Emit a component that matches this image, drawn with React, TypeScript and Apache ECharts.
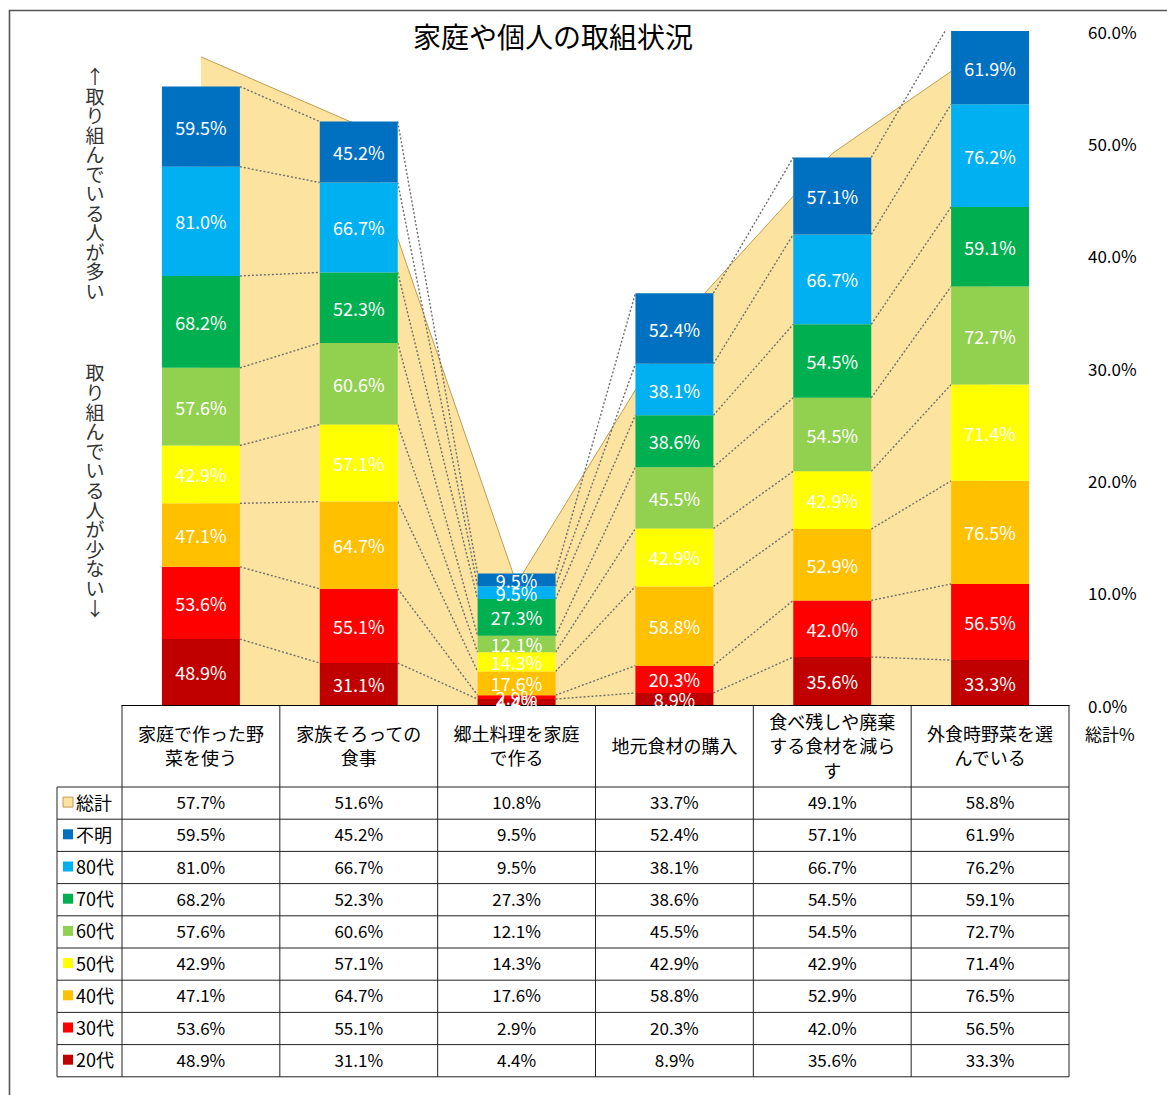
import React, { useEffect, useRef } from 'react';
import * as echarts from 'echarts';

// ---- data ----
const categories = [
  '家庭で作った野菜を使う',
  '家族そろっての食事',
  '郷土料理を家庭で作る',
  '地元食材の購入',
  '食べ残しや廃棄する食材を減らす',
  '外食時野菜を選んでいる',
];
const totalName = '総計';
const total = [57.7, 51.6, 10.8, 33.7, 49.1, 58.8];
const unknown = [59.5, 45.2, 9.5, 52.4, 57.1, 61.9];
const age80 = [81.0, 66.7, 9.5, 38.1, 66.7, 76.2];
const age70 = [68.2, 52.3, 27.3, 38.6, 54.5, 59.1];
const age60 = [57.6, 60.6, 12.1, 45.5, 54.5, 72.7];
const age50 = [42.9, 57.1, 14.3, 42.9, 42.9, 71.4];
const age40 = [47.1, 64.7, 17.6, 58.8, 52.9, 76.5];
const age30 = [53.6, 55.1, 2.9, 20.3, 42.0, 56.5];
const age20 = [48.9, 31.1, 4.4, 8.9, 35.6, 33.3];

const stackNames = ['20代', '30代', '40代', '50代', '60代', '70代', '80代', '不明'];
const stackValues = [age20, age30, age40, age50, age60, age70, age80, unknown];
const stackColors = ['#C00000', '#FF0000', '#FFC000', '#FFFF00', '#92D050', '#00B050', '#00B0F0', '#0070C0'];

const titleText = '家庭や個人の取組状況';
const noteUp = '↑取り組んでいる人が多い';
const noteDown = '取り組んでいる人が少ない↓';
const rightAxisName = '総計%';

const AREA_FILL = '#FCE3A0';
const AREA_LINE = '#C49A52';
const FONT = '"Noto Sans CJK JP", "Noto Sans", sans-serif';
const BAR_RATIO = 0.494;

const GRID_LEFT = 122;
const GRID_RIGHT_X = 1069;
const GRID_TOP = 31;
const AXIS_Y = 705;
const HEADER_H = 82;
const ROW_H = 32.2;

const fmt = (v: number) => v.toFixed(1) + '%';
const wrap7 = (s: string) => {
  const out: string[] = [];
  for (let i = 0; i < s.length; i += 7) out.push(s.slice(i, i + 7));
  return out.join('\n');
};

export default function App() {
  const ref = useRef<HTMLDivElement>(null);
  useEffect(() => {
    document.body.style.margin = '0';
    const chart = echarts.init(ref.current!, null, { renderer: 'svg' });

    const barSeries = stackNames.map((name, s) => ({
      type: 'bar',
      name,
      stack: 'age',
      data: stackValues[s],
      barWidth: (BAR_RATIO * 100).toFixed(1) + '%',
      clip: true,
      z: 3,
      itemStyle: { color: stackColors[s] },
      label: {
        show: true,
        position: 'inside',
        color: '#fff',
        fontSize: 18,
        fontFamily: FONT,
        formatter: (p: any) => fmt(p.value),
      },
    }));

    const option: any = {
      animation: false,
      backgroundColor: '#fff',
      title: {
        text: titleText,
        left: 548,
        top: 17,
        textAlign: 'center',
        textStyle: { fontSize: 28, fontWeight: 'normal', color: '#000', fontFamily: FONT },
      },
      grid: { left: GRID_LEFT, right: 1167 - GRID_RIGHT_X, top: GRID_TOP, bottom: 1095 - AXIS_Y },
      xAxis: {
        type: 'category',
        data: categories,
        axisLine: { lineStyle: { color: '#000', width: 1 } },
        axisTick: { show: false },
        axisLabel: {
          interval: 0,
          formatter: (v: string) => wrap7(v),
          color: '#000',
          fontSize: 18,
          lineHeight: 24.5,
          fontFamily: FONT,
          verticalAlign: 'middle',
          margin: 40,
        },
      },
      yAxis: [
        { type: 'value', min: 0, max: 500, show: false },
        {
          type: 'value',
          min: 0,
          max: 60,
          interval: 10,
          position: 'right',
          axisLine: { show: false },
          axisTick: { show: false },
          splitLine: { show: false },
          axisLabel: {
            formatter: (v: number) => fmt(v),
            color: '#000',
            fontSize: 17,
            margin: 19,
            fontFamily: FONT,
            padding: [0, 0, 5, 0],
          },
        },
      ],
      series: [
        {
          type: 'line',
          name: totalName,
          yAxisIndex: 1,
          data: total,
          symbol: 'none',
          z: 1,
          lineStyle: { color: AREA_LINE, width: 1 },
          areaStyle: { color: AREA_FILL, opacity: 1 },
        },
        {
          type: 'custom',
          name: 'series-lines',
          xAxisIndex: 0,
          yAxisIndex: 0,
          clip: true,
          silent: true,
          z: 2,
          encode: { x: 0, y: 1 },
          data: categories.slice(0, -1).map((_, i) => [i, 0]),
          renderItem: (params: any, api: any) => {
            const i = api.value(0);
            const band = api.size([1, 0])[0];
            const half = (band * BAR_RATIO) / 2;
            const children: any[] = [];
            let ca = 0;
            let cb = 0;
            for (const vals of stackValues) {
              ca += vals[i];
              cb += vals[i + 1];
              const a = api.coord([i, ca]);
              const b = api.coord([i + 1, cb]);
              children.push({
                type: 'line',
                shape: { x1: a[0] + half, y1: a[1], x2: b[0] - half, y2: b[1] },
                style: { stroke: '#6E6E6E', lineWidth: 1.4, lineDash: [2, 2] },
              });
            }
            return { type: 'group', children };
          },
        },
        ...barSeries,
      ],
    };
    chart.setOption(option);

    // ---- table and notes ----
    const xs = categories.map((_, i) => chart.convertToPixel({ xAxisIndex: 0 }, i) as number);
    const band = xs.length > 1 ? xs[1] - xs[0] : 158;
    const colEdges = [xs[0] - band / 2, ...xs.map((x) => x + band / 2)];
    const tableTop = AXIS_Y + HEADER_H;
    const rowNames = [totalName, ...stackNames.slice().reverse()];
    const rowValues = [total, ...stackValues.slice().reverse()];
    const rowColors = [AREA_FILL, ...stackColors.slice().reverse()];
    const nRows = rowNames.length;
    const tableBottom = tableTop + nRows * ROW_H;
    const legendLeft = 57;
    const lineStyle = { stroke: '#222', lineWidth: 1 };

    const g: any[] = [];
    g.push({
      type: 'rect',
      shape: { x: 9.5, y: 10.5, width: 1400, height: 1400 },
      style: { fill: 'none', stroke: '#555', lineWidth: 1.6 },
      silent: true,
    });
    g.push({
      type: 'text',
      x: 95,
      y: 66,
      style: {
        text: noteUp.split('').join('\n'),
        fontSize: 19,
        lineHeight: 19.5,
        fill: '#333',
        align: 'center',
        verticalAlign: 'top',
        fontFamily: FONT,
      },
    });
    g.push({
      type: 'text',
      x: 95,
      y: 362,
      style: {
        text: noteDown.split('').join('\n'),
        fontSize: 19,
        lineHeight: 19.6,
        fill: '#333',
        align: 'center',
        verticalAlign: 'top',
        fontFamily: FONT,
      },
    });
    g.push({
      type: 'text',
      x: 1085,
      y: 733,
      style: { text: rightAxisName, fontSize: 17, fill: '#000', align: 'left', verticalAlign: 'middle', fontFamily: FONT },
    });
    // vertical lines
    colEdges.forEach((x) => {
      g.push({ type: 'line', shape: { x1: x, y1: AXIS_Y, x2: x, y2: tableBottom }, style: lineStyle });
    });
    g.push({ type: 'line', shape: { x1: legendLeft, y1: tableTop, x2: legendLeft, y2: tableBottom }, style: lineStyle });
    // horizontal lines
    for (let r = 0; r <= nRows; r++) {
      const y = tableTop + r * ROW_H;
      g.push({ type: 'line', shape: { x1: legendLeft, y1: y, x2: colEdges[colEdges.length - 1], y2: y }, style: lineStyle });
    }
    // rows
    rowNames.forEach((name, r) => {
      const cy = tableTop + r * ROW_H + ROW_H / 2 - 1.5;
      g.push({
        type: 'rect',
        shape: { x: 63, y: cy - 4.5, width: 10, height: 10 },
        style: r === 0 ? { fill: rowColors[r], stroke: AREA_LINE, lineWidth: 1 } : { fill: rowColors[r] },
      });
      g.push({
        type: 'text',
        x: 76,
        y: cy,
        style: { text: name, fontSize: 18, fill: '#000', align: 'left', verticalAlign: 'middle', fontFamily: FONT },
      });
      rowValues[r].forEach((v, c) => {
        g.push({
          type: 'text',
          x: xs[c],
          y: cy,
          style: { text: fmt(v), fontSize: 17, fill: '#000', align: 'center', verticalAlign: 'middle', fontFamily: FONT },
        });
      });
    });
    chart.setOption({ graphic: { elements: g } });

    return () => chart.dispose();
  }, []);
  return <div ref={ref} style={{ width: 1167, height: 1095 }} />;
}
